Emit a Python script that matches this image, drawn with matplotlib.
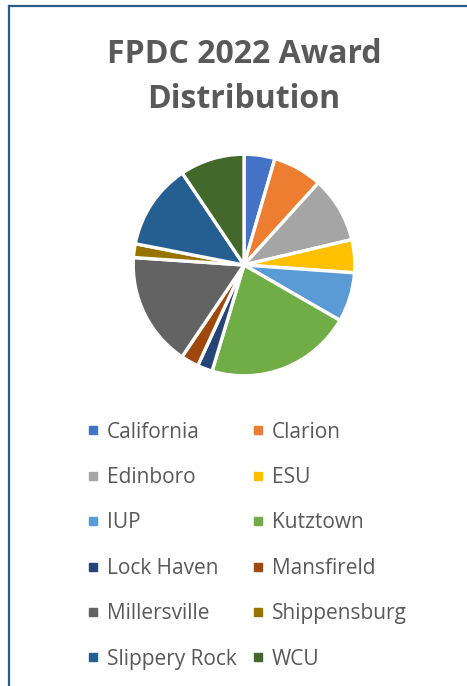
import matplotlib.pyplot as plt
from matplotlib.lines import Line2D

# award shares (percent), clockwise from 12 o'clock
schools = ['California', 'Clarion', 'Edinboro', 'ESU', 'IUP', 'Kutztown',
           'Lock Haven', 'Mansfireld', 'Millersville', 'Shippensburg',
           'Slippery Rock', 'WCU']
shares = [4.5, 7.2, 9.6, 4.8, 7.2, 21.3, 2.2, 2.6, 16.6, 2.0, 12.5, 9.4]
colors = ['#4472C4', '#ED7D31', '#A5A5A5', '#FFC000', '#5B9BD5', '#70AD47',
          '#264478', '#9E480E', '#636363', '#997300', '#255E91', '#43682B']

W, H = 467, 686
fig = plt.figure(figsize=(W / 100, H / 100), dpi=100)
fig.patch.set_facecolor('white')

# frame (only left and top edges visible)
frame_col = '#2E5C8A'
fig.add_artist(Line2D([9 / W, 9 / W], [0, 1 - 6 / H], transform=fig.transFigure,
                      color=frame_col, lw=1.6))
fig.add_artist(Line2D([9 / W, 1], [1 - 6 / H, 1 - 6 / H], transform=fig.transFigure,
                      color=frame_col, lw=1.6))

fig.text(244 / W, 1 - 77 / H, 'FPDC 2022 Award\nDistribution', ha='center', va='center',
         fontsize=23, fontweight='bold', color='#595959', family='Open Sans',
         linespacing=1.5)

# pie
cx, cy, r = 244, 265, 113
ax = fig.add_axes([(cx - r) / W, 1 - (cy + r) / H, 2 * r / W, 2 * r / H])
ax.pie(shares, colors=colors, startangle=90, counterclock=False, radius=1,
       wedgeprops=dict(edgecolor='white', linewidth=2.4))
ax.set_xlim(-1.02, 1.02)
ax.set_ylim(-1.02, 1.02)
ax.set_aspect('equal')
ax.axis('off')

# legend, row-major order like the original
order = list(range(0, 12, 2)) + list(range(1, 12, 2))
handles = [Line2D([], [], marker='s', ls='', color=colors[i], markersize=6) for i in order]
labels = [schools[i] for i in order]
fig.legend(handles, labels, ncol=2, loc='upper left',
           bbox_to_anchor=(68 / W, 1 - 403 / H), frameon=False,
           prop=dict(family='Open Sans', size=15), labelcolor='#595959',
           handlelength=0.6, handletextpad=0.35, labelspacing=1.17,
           columnspacing=0.75)

plt.savefig('out.png', dpi=100)
